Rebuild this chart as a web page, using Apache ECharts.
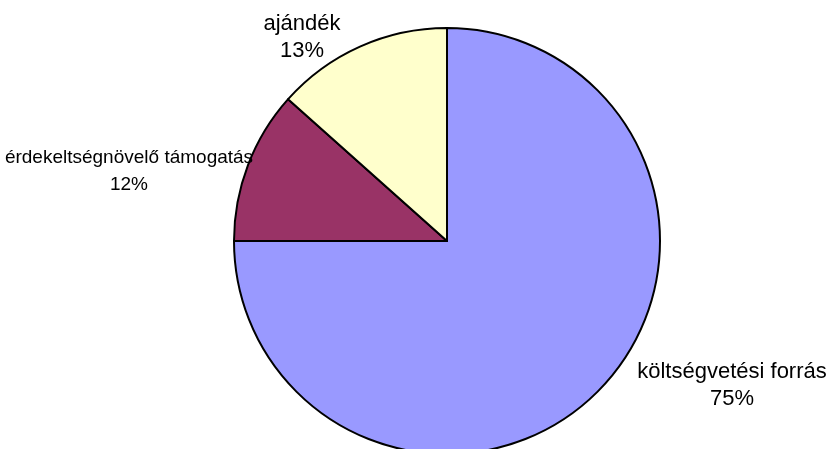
<!DOCTYPE html>
<html><head><meta charset="utf-8">
<script src="https://cdn.jsdelivr.net/npm/echarts@6/dist/echarts.min.js"></script>
<style>html,body{margin:0;padding:0;background:#fff}#c{width:835px;height:449px}</style>
</head><body><div id="c"></div>
<script>
const categories = ['költségvetési forrás', 'érdekeltségnövelő támogatás', 'ajándék'];
const values = [75.0, 11.6, 13.4];
const percentLabels = ['75%', '12%', '13%'];
const colors = ['#9999FF', '#993366', '#FFFFCC'];
const labelPos = [[732, 385], [129, 171], [302, 37]];
const labelSizes = [22, 19, 22];

const chart = echarts.init(document.getElementById('c'));
chart.setOption({
  animation: false,
  backgroundColor: '#fff',
  series: [{
    type: 'pie',
    center: [447, 241],
    radius: 213,
    startAngle: 90,
    clockwise: true,
    data: categories.map((n, i) => ({
      name: n, value: values[i],
      itemStyle: { color: colors[i] },
      label: { fontSize: labelSizes[i] }
    })),
    itemStyle: { borderColor: '#000', borderWidth: 2 },
    label: {
      show: true,
      position: 'outside',
      formatter: p => p.name + '\n' + percentLabels[p.dataIndex],
      color: '#000',
      fontFamily: 'Liberation Sans, Arial, sans-serif',
      lineHeight: 27,
      align: 'center',
      overflow: 'none'
    },
    labelLine: { show: false },
    labelLayout: p => ({ x: labelPos[p.dataIndex][0], y: labelPos[p.dataIndex][1], align: 'center', verticalAlign: 'middle', hideOverlap: false }),
    emphasis: { disabled: true }
  }]
});
</script></body></html>
